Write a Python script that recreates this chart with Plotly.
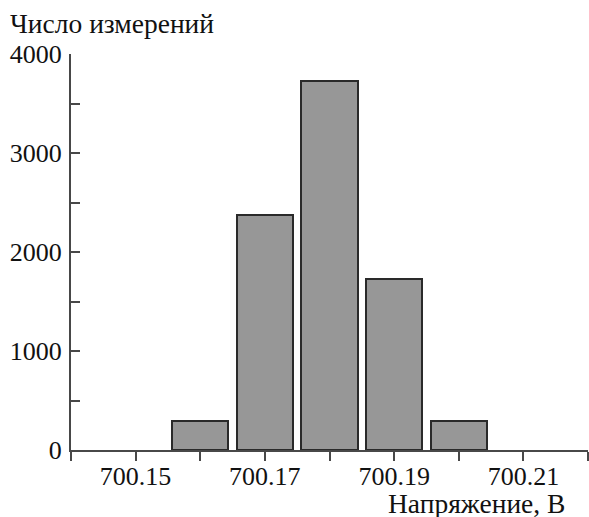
import plotly.graph_objects as go

# Histogram of voltage measurements
bin_centers = [700.16, 700.17, 700.18, 700.19, 700.20]
counts = [290, 2370, 3730, 1730, 290]
bin_width = 0.0087

x_tick_vals = [700.15, 700.17, 700.19, 700.21]
x_tick_text = ["700.15", "700.17", "700.19", "700.21"]
y_tick_vals = [0, 1000, 2000, 3000, 4000]
y_tick_text = ["0", "1000", "2000", "3000", "4000"]

FONT = "Liberation Serif"
FONT_SIZE = 26
TITLE_SIZE = 27.5
TEXT_COLOR = "#111111"
AXIS_COLOR = "#484848"

fig = go.Figure(
    go.Bar(
        x=bin_centers,
        y=counts,
        width=[bin_width] * len(bin_centers),
        marker=dict(color="#979797", line=dict(color="#2a2a2a", width=2)),
        showlegend=False,
    )
)

fig.update_layout(
    width=589,
    height=517,
    margin=dict(l=71, r=1, t=54, b=67),
    paper_bgcolor="white",
    plot_bgcolor="white",
    font=dict(family=FONT, size=FONT_SIZE, color=TEXT_COLOR),
    bargap=0,
    xaxis=dict(
        range=[700.14, 700.22],
        tickmode="array",
        tickvals=x_tick_vals,
        ticktext=x_tick_text,
        ticks="outside",
        ticklen=9,
        tickwidth=2,
        tickcolor=AXIS_COLOR,
        showline=True,
        linecolor=AXIS_COLOR,
        linewidth=2,
        showgrid=False,
        zeroline=False,
        ticklabelstandoff=-7,
        tickfont=dict(family=FONT, size=FONT_SIZE, color=TEXT_COLOR),
        minor=dict(
            tick0=700.14,
            dtick=0.01,
            ticks="outside",
            ticklen=9,
            tickwidth=2,
            tickcolor=AXIS_COLOR,
            showgrid=False,
        ),
    ),
    yaxis=dict(
        range=[0, 4000],
        tickmode="array",
        tickvals=y_tick_vals,
        ticktext=y_tick_text,
        ticks="inside",
        ticklen=9,
        tickwidth=2,
        tickcolor=AXIS_COLOR,
        showline=True,
        linecolor=AXIS_COLOR,
        linewidth=2,
        showgrid=False,
        zeroline=False,
        ticklabelstandoff=2,
        tickfont=dict(family=FONT, size=FONT_SIZE, color=TEXT_COLOR),
        minor=dict(
            tick0=0,
            dtick=500,
            ticks="inside",
            ticklen=9,
            tickwidth=2,
            tickcolor=AXIS_COLOR,
            showgrid=False,
        ),
    ),
    annotations=[
        dict(
            text="Число измерений",
            xref="paper", yref="paper",
            x=-71 / 517, y=1 + 13 / 396,
            xanchor="left", yanchor="bottom",
            xshift=8,
            showarrow=False,
            font=dict(family=FONT, size=TITLE_SIZE, color=TEXT_COLOR),
        ),
        dict(
            text="Напряжение, В",
            xref="paper", yref="paper",
            x=(566 - 71) / 517, y=0,
            xanchor="right", yanchor="top",
            yshift=-37,
            borderpad=0,
            showarrow=False,
            font=dict(family=FONT, size=TITLE_SIZE, color=TEXT_COLOR),
        ),
    ],
)

fig.write_html("out.html")
